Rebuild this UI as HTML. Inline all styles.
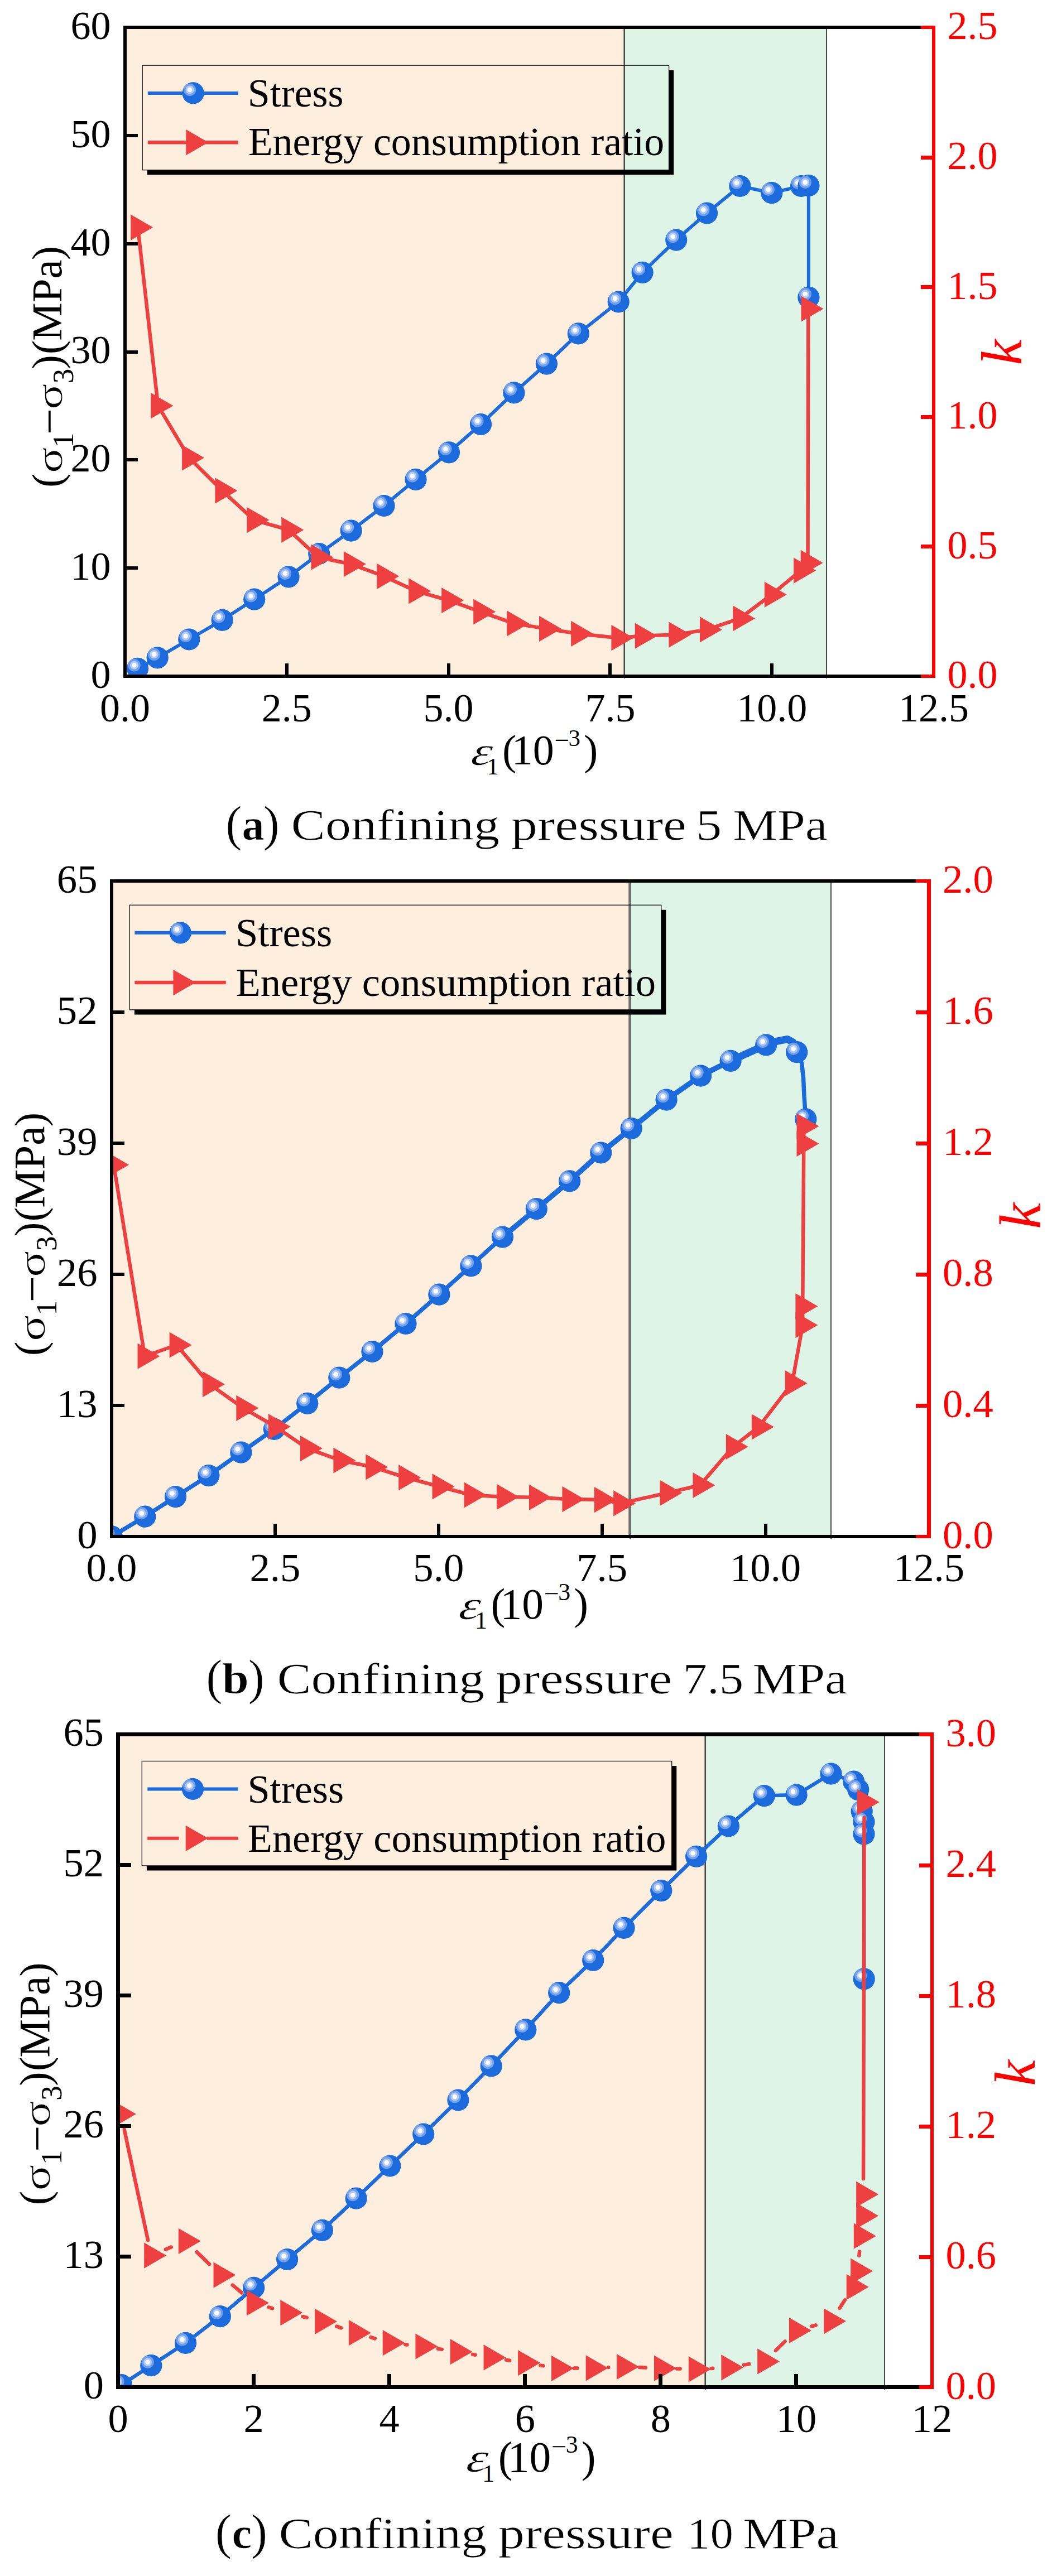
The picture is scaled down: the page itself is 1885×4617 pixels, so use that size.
<!DOCTYPE html>
<html lang="en"><head><meta charset="utf-8"><title>Stress and energy consumption ratio</title>
<style>html,body{margin:0;padding:0;background:#fff}svg{display:block}text{font-family:"Liberation Serif", "DejaVu Serif", serif}</style>
</head><body>
<svg width="1885" height="4617" viewBox="0 0 1885 4617">
<defs><g id="b"><circle r="19.6" fill="#1B6BDC"/><circle cx="-6.1" cy="-6" r="11.2" fill="#729FE9"/><circle cx="-6.1" cy="-6" r="7.5" fill="#B2CBF4"/><circle cx="-6.1" cy="-6" r="4.2" fill="#fff"/></g></defs>
<rect width="1885" height="4617" fill="#fff"/>
<g id="chart1">
<clipPath id="c1"><rect x="224" y="49" width="1449" height="1163"/></clipPath>
<rect x="224" y="49" width="895" height="1166" fill="#FDEEDE"/>
<rect x="1119" y="49" width="362" height="1166" fill="#DEF4E6"/>
<g shape-rendering="crispEdges">
<rect x="1117" y="49" width="1" height="1166" fill="#988E83"/>
<rect x="1118" y="49" width="2" height="1167" fill="#454947"/>
<rect x="1480" y="49" width="2" height="1167" fill="#454947"/>
</g>
<path d="M1198.6 125.8h8.6v187.5h-943.4v-8.6h934.8z" fill="#000"/>
<rect x="255.2" y="117.2" width="943.4" height="187.5" fill="none" stroke="#111" stroke-width="1.3"/>
<path d="M264.7 166.9H427" stroke="#1B6BDC" stroke-width="6" fill="none"/>
<use href="#b" x="346.1" y="166.9"/>
<path d="M264.7 255.2H427" stroke="#EE4040" stroke-width="6.5" fill="none"/>
<g fill="#EE4040"><path d="M333.3 232.1v46.2L373.3 255.2z"/></g>
<text x="443.7" y="191" font-size="71.9">Stress</text>
<text x="444.7" y="278.2" font-size="71.9">Energy consumption ratio</text>
<g clip-path="url(#c1)">
<path d="M246.6 1198.3L282.2 1178.8L338.8 1146L398.2 1111.3L455.7 1074.2L517 1033.8L571.7 992.5L629.2 951.1L688 906.5L745 859.3L804.5 810.8L861.5 760.5L920.9 703.9L979.4 652.1L1036.4 597.9L1108.2 541L1151.1 488.3L1211.7 430.1L1266.5 382L1325.9 333.5L1382.8 345.7L1435.5 333.5L1448.9 332.7L1448.9 533" stroke="#1B6BDC" stroke-width="6" fill="none" stroke-linejoin="round"/>
<use href="#b" x="246.6" y="1198.3"/>
<use href="#b" x="282.2" y="1178.8"/>
<use href="#b" x="338.8" y="1146"/>
<use href="#b" x="398.2" y="1111.3"/>
<use href="#b" x="455.7" y="1074.2"/>
<use href="#b" x="517" y="1033.8"/>
<use href="#b" x="571.7" y="992.5"/>
<use href="#b" x="629.2" y="951.1"/>
<use href="#b" x="688" y="906.5"/>
<use href="#b" x="745" y="859.3"/>
<use href="#b" x="804.5" y="810.8"/>
<use href="#b" x="861.5" y="760.5"/>
<use href="#b" x="920.9" y="703.9"/>
<use href="#b" x="979.4" y="652.1"/>
<use href="#b" x="1036.4" y="597.9"/>
<use href="#b" x="1108.2" y="541"/>
<use href="#b" x="1151.1" y="488.3"/>
<use href="#b" x="1211.7" y="430.1"/>
<use href="#b" x="1266.5" y="382"/>
<use href="#b" x="1325.9" y="333.5"/>
<use href="#b" x="1382.8" y="345.7"/>
<use href="#b" x="1435.5" y="333.5"/>
<use href="#b" x="1448.9" y="332.7"/>
<use href="#b" x="1448.9" y="533"/>
<path d="M247 407.6L283.2 727.2L338.9 820.5L398.2 879.4L455.2 932.1L517 949.7L570.2 998.7L628.7 1011L688 1032.8L745 1059.4L804 1076L861 1096.5L920.9 1117.4L978.8 1126.9L1035.9 1135.9L1108.2 1143.2L1150.5 1139.7L1211.2 1137.6L1266.8 1128.4L1325.8 1108.4L1382.6 1065.7L1434.9 1022.6L1447.5 1008.8L1448.3 553.5" stroke="#EE4040" stroke-width="6.5" fill="none" stroke-linejoin="round"/>
<g fill="#EE4040">
<path d="M234.2 384.5v46.2L274.2 407.6z"/>
<path d="M270.4 704.1v46.2L310.4 727.2z"/>
<path d="M326.1 797.4v46.2L366.1 820.5z"/>
<path d="M385.4 856.3v46.2L425.4 879.4z"/>
<path d="M442.4 909v46.2L482.4 932.1z"/>
<path d="M504.2 926.6v46.2L544.2 949.7z"/>
<path d="M557.4 975.6v46.2L597.4 998.7z"/>
<path d="M615.9 987.9v46.2L655.9 1011z"/>
<path d="M675.2 1009.7v46.2L715.2 1032.8z"/>
<path d="M732.2 1036.3v46.2L772.2 1059.4z"/>
<path d="M791.2 1052.9v46.2L831.2 1076z"/>
<path d="M848.2 1073.4v46.2L888.2 1096.5z"/>
<path d="M908.1 1094.3v46.2L948.1 1117.4z"/>
<path d="M966 1103.8v46.2L1006 1126.9z"/>
<path d="M1023.1 1112.8v46.2L1063.1 1135.9z"/>
<path d="M1095.4 1120.1v46.2L1135.4 1143.2z"/>
<path d="M1137.7 1116.6v46.2L1177.7 1139.7z"/>
<path d="M1198.4 1114.5v46.2L1238.4 1137.6z"/>
<path d="M1254 1105.3v46.2L1294 1128.4z"/>
<path d="M1313 1085.3v46.2L1353 1108.4z"/>
<path d="M1369.8 1042.6v46.2L1409.8 1065.7z"/>
<path d="M1422.1 999.5v46.2L1462.1 1022.6z"/>
<path d="M1434.7 985.7v46.2L1474.7 1008.8z"/>
<path d="M1435.5 530.4v46.2L1475.5 553.5z"/>
</g>
</g>
<g shape-rendering="crispEdges">
<rect x="221" y="46" width="6" height="1169" fill="#000"/>
<rect x="221" y="46" width="1455" height="6" fill="#000"/>
<rect x="221" y="1209" width="1455" height="6" fill="#000"/>
<rect x="224" y="1015.2" width="23" height="6" fill="#000"/>
<rect x="224" y="821.3" width="23" height="6" fill="#000"/>
<rect x="224" y="627.5" width="23" height="6" fill="#000"/>
<rect x="224" y="433.7" width="23" height="6" fill="#000"/>
<rect x="224" y="239.8" width="23" height="6" fill="#000"/>
<rect x="510.8" y="1189" width="6" height="23" fill="#000"/>
<rect x="800.6" y="1189" width="6" height="23" fill="#000"/>
<rect x="1090.4" y="1189" width="6" height="23" fill="#000"/>
<rect x="1380.2" y="1189" width="6" height="23" fill="#000"/>
<rect x="1670" y="46" width="6" height="1169" fill="#FF0000"/>
<rect x="1650" y="46" width="23" height="6" fill="#FF0000"/>
<rect x="1650" y="1209" width="23" height="6" fill="#FF0000"/>
<rect x="1650" y="976.4" width="23" height="7" fill="#FF0000"/>
<rect x="1650" y="743.8" width="23" height="7" fill="#FF0000"/>
<rect x="1650" y="511.2" width="23" height="7" fill="#FF0000"/>
<rect x="1650" y="278.6" width="23" height="7" fill="#FF0000"/>
</g>
<g font-size="72">
<g text-anchor="end">
<text x="198.5" y="1232.8">0</text>
<text x="198.5" y="1039">10</text>
<text x="198.5" y="845.1">20</text>
<text x="198.5" y="651.3">30</text>
<text x="198.5" y="457.5">40</text>
<text x="198.5" y="263.6">50</text>
<text x="198.5" y="69.8">60</text>
</g><g text-anchor="middle">
<text x="224" y="1293.2">0.0</text>
<text x="513.8" y="1293.2">2.5</text>
<text x="803.6" y="1293.2">5.0</text>
<text x="1093.4" y="1293.2">7.5</text>
<text x="1383.2" y="1293.2">10.0</text>
<text x="1673" y="1293.2">12.5</text>
</g><g fill="#FF0000">
<text x="1697.5" y="1233.3">0.0</text>
<text x="1697.5" y="1000.7">0.5</text>
<text x="1697.5" y="768.1">1.0</text>
<text x="1697.5" y="535.5">1.5</text>
<text x="1697.5" y="302.9">2.0</text>
<text x="1697.5" y="70.3">2.5</text>
</g></g>
<g transform="translate(109.6 870.8) rotate(-90) scale(1)">
<g font-size="76">
<text x="-3" y="0">(</text>
<text x="235.9" y="0">(</text>
<text x="209.4" y="0">)</text>
<text x="404.5" y="0">)</text>
<text x="92.2" y="4.5" transform="translate(95.8 0) scale(1.1 1) translate(-95.8 0)">−</text>
</g>
<text font-size="76" transform="translate(26.1 1.2) scale(1.14 0.9)" x="-3" y="0" stroke="#fff" stroke-width="1">σ</text>
<text font-size="76" transform="translate(140.2 1.2) scale(1.14 0.9)" x="-3" y="0" stroke="#fff" stroke-width="1">σ</text>
<text font-size="53" x="68.9" y="21.7">1</text>
<text font-size="53" x="183.6" y="21.7">3</text>
<text font-size="77" x="260.1" y="0">MPa</text>
</g>
<g transform="translate(844.4 1370) scale(1)">
<text font-size="76" font-style="italic" transform="translate(0 0.5) scale(1.2 0.95) skewX(-8)" x="-2" y="0" stroke="#fff" stroke-width="0.7">ε</text>
<text font-size="43" x="27.8" y="17.9">1</text>
<text font-size="76" x="55.6" y="0">(</text>
<text font-size="76" x="72.4" y="0">10</text>
<text font-size="43" x="149.3" y="-29.1" transform="translate(151.6 0) scale(1.1 1) translate(-151.6 0)">−</text>
<text font-size="43" x="174.2" y="-32.7">3</text>
<text font-size="76" x="201.6" y="0">)</text>
</g>
<text transform="translate(1830.3 631.4) rotate(-90)" font-size="104" font-style="italic" fill="#FF0000" text-anchor="middle">k</text>
<g font-size="78" stroke="#fff" stroke-width="0.7">
<text x="404.3" y="1506.3" font-size="88">(</text>
<text x="433.6" y="1505.3" font-weight="bold" textLength="40.1" lengthAdjust="spacingAndGlyphs">a</text>
<text x="471.6" y="1506.3" font-size="88">)</text>
<text x="521.5" y="1505.3" textLength="373.6" lengthAdjust="spacingAndGlyphs">Confining</text>
<text x="915.8" y="1505.3" textLength="314.1" lengthAdjust="spacingAndGlyphs">pressure</text>
<text x="1247.1" y="1505.3" textLength="46.3" lengthAdjust="spacingAndGlyphs">5</text>
<text x="1313.2" y="1505.3" textLength="169.5" lengthAdjust="spacingAndGlyphs">MPa</text>
</g>
</g>
<g id="chart2">
<clipPath id="c2"><rect x="200" y="1579" width="1464.5" height="1175"/></clipPath>
<rect x="200" y="1579" width="929" height="1178" fill="#FDEEDE"/>
<rect x="1129" y="1579" width="360" height="1178" fill="#DEF4E6"/>
<g shape-rendering="crispEdges">
<rect x="1126" y="1579" width="2" height="1178" fill="#988E83"/>
<rect x="1128" y="1579" width="2" height="1179" fill="#454947"/>
<rect x="1488" y="1579" width="2" height="1179" fill="#454947"/>
</g>
<path d="M1184.8 1630.8h8.6v187.6h-952.5v-8.6h943.9z" fill="#000"/>
<rect x="232.3" y="1622.2" width="952.5" height="187.6" fill="none" stroke="#111" stroke-width="1.3"/>
<path d="M241.4 1671.8H404.8" stroke="#1B6BDC" stroke-width="6" fill="none"/>
<use href="#b" x="323.2" y="1671.8"/>
<path d="M241.4 1761.1H404.8" stroke="#EE4040" stroke-width="6.5" fill="none"/>
<g fill="#EE4040"><path d="M310.4 1738v46.2L350.4 1761.1z"/></g>
<text x="421.9" y="1696" font-size="72.6">Stress</text>
<text x="422.4" y="1784.5" font-size="72.6">Energy consumption ratio</text>
<g clip-path="url(#c2)">
<path d="M200.3 2753.9L259.8 2718.2L314.5 2682.6L373.9 2644.6L431.9 2603.2L491.3 2561.4L550.7 2515.3L607.8 2469.2L667 2422.5L727 2372.5L786.9 2320.2L843.9 2268.9L900.5 2217.1L961.3 2166.7L1020.7 2116.8L1076.8 2066L1131.2 2022.5L1194.1 1971.1L1255.6 1928.1L1309.1 1901.3L1372.7 1872.8L1393 1866L1411 1862.5L1421 1868L1427.7 1885.7L1436.5 1905L1439.5 1932L1441 1965L1443.8 2005.8" stroke="#1B6BDC" stroke-width="7.5" fill="none" stroke-linejoin="round"/>
<path d="M900.5 2217.1L961.3 2166.7L1020.7 2116.8L1076.8 2066L1131.2 2022.5L1194.1 1971.1L1255.6 1928.1L1309.1 1901.3" stroke="#1B6BDC" stroke-width="9.5" fill="none" stroke-linejoin="round" stroke-linecap="round"/>
<path d="M1309.1 1901.3L1372.7 1872.8L1393 1866L1411 1862.5L1421 1868L1427.7 1885.7" stroke="#1B6BDC" stroke-width="13" fill="none" stroke-linejoin="round" stroke-linecap="round"/>
<use href="#b" x="200.3" y="2753.9"/>
<use href="#b" x="259.8" y="2718.2"/>
<use href="#b" x="314.5" y="2682.6"/>
<use href="#b" x="373.9" y="2644.6"/>
<use href="#b" x="431.9" y="2603.2"/>
<use href="#b" x="491.3" y="2561.4"/>
<use href="#b" x="550.7" y="2515.3"/>
<use href="#b" x="607.8" y="2469.2"/>
<use href="#b" x="667" y="2422.5"/>
<use href="#b" x="727" y="2372.5"/>
<use href="#b" x="786.9" y="2320.2"/>
<use href="#b" x="843.9" y="2268.9"/>
<use href="#b" x="900.5" y="2217.1"/>
<use href="#b" x="961.3" y="2166.7"/>
<use href="#b" x="1020.7" y="2116.8"/>
<use href="#b" x="1076.8" y="2066"/>
<use href="#b" x="1131.2" y="2022.5"/>
<use href="#b" x="1194.1" y="1971.1"/>
<use href="#b" x="1255.6" y="1928.1"/>
<use href="#b" x="1309.1" y="1901.3"/>
<use href="#b" x="1372.7" y="1872.8"/>
<use href="#b" x="1427.7" y="1885.7"/>
<use href="#b" x="1443.8" y="2005.8"/>
<path d="M203.8 2087.7L259.3 2430.7L316.4 2410.7L375.8 2481.1L436.1 2523.8L493.7 2557.1L550.7 2596.1L610.1 2617.5L668.1 2629.4L727 2648.2L787.3 2664.3L844.4 2679.5L902.8 2682.9L960.8 2683.8L1020.2 2687.1L1077.7 2688.1L1112 2694.4L1195.2 2675.8L1254.2 2662L1313.6 2593L1359.6 2557.4L1419.4 2479.2L1438.2 2375.1L1438.2 2341.2L1440.3 2049.8L1440.3 2018.4" stroke="#EE4040" stroke-width="6.5" fill="none" stroke-linejoin="round"/>
<g fill="#EE4040">
<path d="M191 2064.6v46.2L231 2087.7z"/>
<path d="M246.5 2407.6v46.2L286.5 2430.7z"/>
<path d="M303.6 2387.6v46.2L343.6 2410.7z"/>
<path d="M363 2458v46.2L403 2481.1z"/>
<path d="M423.3 2500.7v46.2L463.3 2523.8z"/>
<path d="M480.9 2534v46.2L520.9 2557.1z"/>
<path d="M537.9 2573v46.2L577.9 2596.1z"/>
<path d="M597.3 2594.4v46.2L637.3 2617.5z"/>
<path d="M655.3 2606.3v46.2L695.3 2629.4z"/>
<path d="M714.2 2625.1v46.2L754.2 2648.2z"/>
<path d="M774.5 2641.2v46.2L814.5 2664.3z"/>
<path d="M831.6 2656.4v46.2L871.6 2679.5z"/>
<path d="M890 2659.8v46.2L930 2682.9z"/>
<path d="M948 2660.7v46.2L988 2683.8z"/>
<path d="M1007.4 2664v46.2L1047.4 2687.1z"/>
<path d="M1064.9 2665v46.2L1104.9 2688.1z"/>
<path d="M1099.2 2671.3v46.2L1139.2 2694.4z"/>
<path d="M1182.4 2652.7v46.2L1222.4 2675.8z"/>
<path d="M1241.4 2638.9v46.2L1281.4 2662z"/>
<path d="M1300.8 2569.9v46.2L1340.8 2593z"/>
<path d="M1346.8 2534.3v46.2L1386.8 2557.4z"/>
<path d="M1406.6 2456.1v46.2L1446.6 2479.2z"/>
<path d="M1425.4 2352v46.2L1465.4 2375.1z"/>
<path d="M1425.4 2318.1v46.2L1465.4 2341.2z"/>
<path d="M1427.5 2026.7v46.2L1467.5 2049.8z"/>
<path d="M1427.5 1995.3v46.2L1467.5 2018.4z"/>
</g>
</g>
<g shape-rendering="crispEdges">
<rect x="197" y="1576" width="6" height="1181" fill="#000"/>
<rect x="197" y="1576" width="1471" height="6" fill="#000"/>
<rect x="197" y="2751" width="1471" height="6" fill="#000"/>
<rect x="200" y="2516" width="23" height="6" fill="#000"/>
<rect x="200" y="2281" width="23" height="6" fill="#000"/>
<rect x="200" y="2046" width="23" height="6" fill="#000"/>
<rect x="200" y="1811" width="23" height="6" fill="#000"/>
<rect x="489.9" y="2731" width="6" height="23" fill="#000"/>
<rect x="782.8" y="2731" width="6" height="23" fill="#000"/>
<rect x="1075.7" y="2731" width="6" height="23" fill="#000"/>
<rect x="1368.6" y="2731" width="6" height="23" fill="#000"/>
<rect x="1661" y="1576" width="7" height="1181" fill="#FF0000"/>
<rect x="1641" y="1576" width="23.5" height="6" fill="#FF0000"/>
<rect x="1641" y="2751" width="23.5" height="6" fill="#FF0000"/>
<rect x="1641" y="2516" width="23.5" height="7" fill="#FF0000"/>
<rect x="1641" y="2281" width="23.5" height="7" fill="#FF0000"/>
<rect x="1641" y="2046" width="23.5" height="7" fill="#FF0000"/>
<rect x="1641" y="1811" width="23.5" height="7" fill="#FF0000"/>
</g>
<g font-size="72.7">
<g text-anchor="end">
<text x="174.5" y="2774.8">0</text>
<text x="174.5" y="2539.8">13</text>
<text x="174.5" y="2304.8">26</text>
<text x="174.5" y="2069.8">39</text>
<text x="174.5" y="1834.8">52</text>
<text x="174.5" y="1599.8">65</text>
</g><g text-anchor="middle">
<text x="200" y="2833.5">0.0</text>
<text x="492.9" y="2833.5">2.5</text>
<text x="785.8" y="2833.5">5.0</text>
<text x="1078.7" y="2833.5">7.5</text>
<text x="1371.6" y="2833.5">10.0</text>
<text x="1664.5" y="2833.5">12.5</text>
</g><g fill="#FF0000">
<text x="1689" y="2775.3">0.0</text>
<text x="1689" y="2540.3">0.4</text>
<text x="1689" y="2305.3">0.8</text>
<text x="1689" y="2070.3">1.2</text>
<text x="1689" y="1835.3">1.6</text>
<text x="1689" y="1600.3">2.0</text>
</g></g>
<g transform="translate(78.8 2426.9) rotate(-90) scale(1.0075)">
<g font-size="76">
<text x="-3" y="0">(</text>
<text x="235.9" y="0">(</text>
<text x="209.4" y="0">)</text>
<text x="404.5" y="0">)</text>
<text x="92.2" y="4.5" transform="translate(95.8 0) scale(1.1 1) translate(-95.8 0)">−</text>
</g>
<text font-size="76" transform="translate(26.1 1.2) scale(1.14 0.9)" x="-3" y="0" stroke="#fff" stroke-width="1">σ</text>
<text font-size="76" transform="translate(140.2 1.2) scale(1.14 0.9)" x="-3" y="0" stroke="#fff" stroke-width="1">σ</text>
<text font-size="53" x="68.9" y="21.7">1</text>
<text font-size="53" x="183.6" y="21.7">3</text>
<text font-size="77" x="260.1" y="0">MPa</text>
</g>
<g transform="translate(822.7 2901) scale(1.02)">
<text font-size="76" font-style="italic" transform="translate(0 0.5) scale(1.2 0.95) skewX(-8)" x="-2" y="0" stroke="#fff" stroke-width="0.7">ε</text>
<text font-size="43" x="27.8" y="17.9">1</text>
<text font-size="76" x="55.6" y="0">(</text>
<text font-size="76" x="72.4" y="0">10</text>
<text font-size="43" x="149.3" y="-29.1" transform="translate(151.6 0) scale(1.1 1) translate(-151.6 0)">−</text>
<text font-size="43" x="174.2" y="-32.7">3</text>
<text font-size="76" x="201.6" y="0">)</text>
</g>
<text transform="translate(1864.1 2179.4) rotate(-90)" font-size="105" font-style="italic" fill="#FF0000" text-anchor="middle">k</text>
<g font-size="78" stroke="#fff" stroke-width="0.7">
<text x="369.3" y="3035.8" font-size="88">(</text>
<text x="397.9" y="3034.8" font-weight="bold" textLength="47.8" lengthAdjust="spacingAndGlyphs">b</text>
<text x="444.6" y="3035.8" font-size="88">)</text>
<text x="496.4" y="3034.8" textLength="371.7" lengthAdjust="spacingAndGlyphs">Confining</text>
<text x="888.5" y="3034.8" textLength="315.7" lengthAdjust="spacingAndGlyphs">pressure</text>
<text x="1223.4" y="3034.8" textLength="109" lengthAdjust="spacingAndGlyphs">7.5</text>
<text x="1348.4" y="3034.8" textLength="169.5" lengthAdjust="spacingAndGlyphs">MPa</text>
</g>
</g>
<g id="chart3">
<clipPath id="c3"><rect x="211.5" y="3108.5" width="1458.5" height="1170"/></clipPath>
<rect x="211.5" y="3108.5" width="1052.5" height="1173" fill="#FDEEDE"/>
<rect x="1264" y="3108.5" width="321" height="1173" fill="#DEF4E6"/>
<g shape-rendering="crispEdges">
<rect x="1262" y="3108.5" width="1" height="1173" fill="#988E83"/>
<rect x="1263" y="3108.5" width="2" height="1174" fill="#454947"/>
<rect x="1584" y="3108.5" width="2" height="1174" fill="#454947"/>
</g>
<path d="M1203.7 3165.1h8.6v187.4h-949.4v-8.6h940.8z" fill="#000"/>
<rect x="254.3" y="3156.5" width="949.4" height="187.4" fill="none" stroke="#111" stroke-width="1.3"/>
<path d="M264.2 3206.5H426.8" stroke="#1B6BDC" stroke-width="6" fill="none"/>
<use href="#b" x="345.5" y="3206.5"/>
<path d="M264.2 3294.8H320.5M370.5 3294.8H426.8" stroke="#EE4040" stroke-width="6" fill="none"/>
<g fill="#EE4040"><path d="M332.7 3271.7v46.2L372.7 3294.8z"/></g>
<text x="443.4" y="3230.8" font-size="72.3">Stress</text>
<text x="443.8" y="3319.1" font-size="72.3">Energy consumption ratio</text>
<g clip-path="url(#c3)">
<path d="M217.5 4274.5L270.8 4239.7L332.6 4199.3L394.4 4151.7L454.7 4100.4L514.6 4049.5L577.4 3997.3L638.2 3940.2L698.8 3882L758.7 3825L820.9 3764L880.2 3702.9L941.8 3637.9L1001.7 3571.7L1062.7 3513.5L1118.1 3455.3L1184.8 3388.6L1247.6 3327.4L1305.4 3273L1369.3 3218.6L1427.1 3217.1L1489 3179.1L1529.7 3193.2L1537.7 3207.6L1544.2 3246.4L1548 3265.4L1548 3287.1L1548.2 3546.8" stroke="#1B6BDC" stroke-width="6.5" fill="none" stroke-linejoin="round"/>
<use href="#b" x="217.5" y="4274.5"/>
<use href="#b" x="270.8" y="4239.7"/>
<use href="#b" x="332.6" y="4199.3"/>
<use href="#b" x="394.4" y="4151.7"/>
<use href="#b" x="454.7" y="4100.4"/>
<use href="#b" x="514.6" y="4049.5"/>
<use href="#b" x="577.4" y="3997.3"/>
<use href="#b" x="638.2" y="3940.2"/>
<use href="#b" x="698.8" y="3882"/>
<use href="#b" x="758.7" y="3825"/>
<use href="#b" x="820.9" y="3764"/>
<use href="#b" x="880.2" y="3702.9"/>
<use href="#b" x="941.8" y="3637.9"/>
<use href="#b" x="1001.7" y="3571.7"/>
<use href="#b" x="1062.7" y="3513.5"/>
<use href="#b" x="1118.1" y="3455.3"/>
<use href="#b" x="1184.8" y="3388.6"/>
<use href="#b" x="1247.6" y="3327.4"/>
<use href="#b" x="1305.4" y="3273"/>
<use href="#b" x="1369.3" y="3218.6"/>
<use href="#b" x="1427.1" y="3217.1"/>
<use href="#b" x="1489" y="3179.1"/>
<use href="#b" x="1529.7" y="3193.2"/>
<use href="#b" x="1537.7" y="3207.6"/>
<use href="#b" x="1544.2" y="3246.4"/>
<use href="#b" x="1548" y="3265.4"/>
<use href="#b" x="1548" y="3287.1"/>
<use href="#b" x="1548.2" y="3546.8"/>
<path d="M222.6 3816.3L265.1 4015.2M296.8 4031.8L306.8 4027.6M352.7 4036.3L375.2 4058.1M416.7 4095.6L433.3 4109.5M481.6 4135.3L488.2 4137.3M542.2 4152L549.7 4153.9M603.4 4169.7L611.1 4172.3M664.5 4189.1L671.7 4191.3M726.3 4202.2L729.4 4202.5M784.9 4209.8L791.7 4210.9M847 4219.9L851.7 4220.7M907 4229.8L913.2 4230.7M968.5 4239.6L973.2 4240.3M1028.8 4244.6L1034.4 4244.5M1090.1 4243.1l0.1 0M1145.8 4243.1L1156.8 4243.6M1212.8 4245.5L1218.6 4245.6M1274.6 4244.9L1277.2 4244.8M1332.8 4238.6L1342.3 4237.1M1389.9 4212.8L1406.7 4196.5M1453.8 4169.7L1461.7 4167.5M1504.3 4137L1514 4122.3M1539.4 4042.7L1540.1 4035.6M1547.1 3904.9L1548.5 3258" stroke="#EE4040" stroke-width="6.5" fill="none" stroke-linecap="round"/>
<g fill="#EE4040">
<path d="M203.9 3765.8v46.2L243.9 3788.9z"/>
<path d="M258.2 4019.5v46.2L298.2 4042.6z"/>
<path d="M319.8 3993.7v46.2L359.8 4016.8z"/>
<path d="M382.5 4054.5v46.2L422.5 4077.6z"/>
<path d="M441.9 4104.4v46.2L481.9 4127.5z"/>
<path d="M502.3 4122v46.2L542.3 4145.1z"/>
<path d="M564 4137.7v46.2L604 4160.8z"/>
<path d="M624.9 4158.1v46.2L664.9 4181.2z"/>
<path d="M685.7 4176.1v46.2L725.7 4199.2z"/>
<path d="M744.4 4182.4v46.2L784.4 4205.5z"/>
<path d="M806.6 4192.1v46.2L846.6 4215.2z"/>
<path d="M866.5 4202.3v46.2L906.5 4225.4z"/>
<path d="M928.1 4212v46.2L968.1 4235.1z"/>
<path d="M988 4221.7v46.2L1028 4244.8z"/>
<path d="M1049.6 4221.2v46.2L1089.6 4244.3z"/>
<path d="M1105 4218.9v46.2L1145 4242z"/>
<path d="M1172 4221.6v46.2L1212 4244.7z"/>
<path d="M1233.8 4223.3v46.2L1273.8 4246.4z"/>
<path d="M1292.4 4220.2v46.2L1332.4 4243.3z"/>
<path d="M1357.1 4209.3v46.2L1397.1 4232.4z"/>
<path d="M1413.9 4153.8v46.2L1453.9 4176.9z"/>
<path d="M1476 4137.2v46.2L1516 4160.3z"/>
<path d="M1516.7 4075.9v46.2L1556.7 4099z"/>
<path d="M1524.1 4047.5v46.2L1564.1 4070.6z"/>
<path d="M1529.8 3984.6v46.2L1569.8 4007.7z"/>
<path d="M1534.2 3948.3v46.2L1574.2 3971.4z"/>
<path d="M1534.2 3909.8v46.2L1574.2 3932.9z"/>
<path d="M1535.8 3206.9v46.2L1575.8 3230z"/>
</g>
</g>
<g shape-rendering="crispEdges">
<rect x="208" y="3105" width="7" height="1177" fill="#000"/>
<rect x="208" y="3105" width="1465" height="7" fill="#000"/>
<rect x="208" y="4275" width="1465" height="7" fill="#000"/>
<rect x="211.5" y="4041" width="23.5" height="7" fill="#000"/>
<rect x="211.5" y="3807" width="23.5" height="7" fill="#000"/>
<rect x="211.5" y="3573" width="23.5" height="7" fill="#000"/>
<rect x="211.5" y="3339" width="23.5" height="7" fill="#000"/>
<rect x="451.1" y="4255" width="7" height="23.5" fill="#000"/>
<rect x="694.2" y="4255" width="7" height="23.5" fill="#000"/>
<rect x="937.2" y="4255" width="7" height="23.5" fill="#000"/>
<rect x="1180.3" y="4255" width="7" height="23.5" fill="#000"/>
<rect x="1423.4" y="4255" width="7" height="23.5" fill="#000"/>
<rect x="1667" y="3105" width="6" height="1177" fill="#FF0000"/>
<rect x="1647" y="3105" width="23" height="7" fill="#FF0000"/>
<rect x="1647" y="4275" width="23" height="7" fill="#FF0000"/>
<rect x="1647" y="4041.5" width="23" height="7" fill="#FF0000"/>
<rect x="1647" y="3807.5" width="23" height="7" fill="#FF0000"/>
<rect x="1647" y="3573.5" width="23" height="7" fill="#FF0000"/>
<rect x="1647" y="3339.5" width="23" height="7" fill="#FF0000"/>
</g>
<g font-size="72.4">
<g text-anchor="end">
<text x="186" y="4299.3">0</text>
<text x="186" y="4065.3">13</text>
<text x="186" y="3831.3">26</text>
<text x="186" y="3597.3">39</text>
<text x="186" y="3363.3">52</text>
<text x="186" y="3129.3">65</text>
</g><g text-anchor="middle">
<text x="211.5" y="4358.8">0</text>
<text x="454.6" y="4358.8">2</text>
<text x="697.7" y="4358.8">4</text>
<text x="940.8" y="4358.8">6</text>
<text x="1183.8" y="4358.8">8</text>
<text x="1426.9" y="4358.8">10</text>
<text x="1670" y="4358.8">12</text>
</g><g fill="#FF0000">
<text x="1694.5" y="4299.8">0.0</text>
<text x="1694.5" y="4065.8">0.6</text>
<text x="1694.5" y="3831.8">1.2</text>
<text x="1694.5" y="3597.8">1.8</text>
<text x="1694.5" y="3363.8">2.4</text>
<text x="1694.5" y="3129.8">3.0</text>
</g></g>
<g transform="translate(87.8 3949.2) rotate(-90) scale(1.005)">
<g font-size="76">
<text x="-3" y="0">(</text>
<text x="235.9" y="0">(</text>
<text x="209.4" y="0">)</text>
<text x="404.5" y="0">)</text>
<text x="92.2" y="4.5" transform="translate(95.8 0) scale(1.1 1) translate(-95.8 0)">−</text>
</g>
<text font-size="76" transform="translate(26.1 1.2) scale(1.14 0.9)" x="-3" y="0" stroke="#fff" stroke-width="1">σ</text>
<text font-size="76" transform="translate(140.2 1.2) scale(1.14 0.9)" x="-3" y="0" stroke="#fff" stroke-width="1">σ</text>
<text font-size="53" x="68.9" y="21.7">1</text>
<text font-size="53" x="183.6" y="21.7">3</text>
<text font-size="77" x="260.1" y="0">MPa</text>
</g>
<g transform="translate(836 4429.5) scale(1.02)">
<text font-size="76" font-style="italic" transform="translate(0 0.5) scale(1.2 0.95) skewX(-8)" x="-2" y="0" stroke="#fff" stroke-width="0.7">ε</text>
<text font-size="43" x="27.8" y="17.9">1</text>
<text font-size="76" x="55.6" y="0">(</text>
<text font-size="76" x="72.4" y="0">10</text>
<text font-size="43" x="149.3" y="-29.1" transform="translate(151.6 0) scale(1.1 1) translate(-151.6 0)">−</text>
<text font-size="43" x="174.2" y="-32.7">3</text>
<text font-size="76" x="201.6" y="0">)</text>
</g>
<text transform="translate(1854.4 3715.6) rotate(-90)" font-size="104.5" font-style="italic" fill="#FF0000" text-anchor="middle">k</text>
<g font-size="78" stroke="#fff" stroke-width="0.7">
<text x="385.8" y="4568.2" font-size="88">(</text>
<text x="415.5" y="4567.2" font-weight="bold" textLength="35.6" lengthAdjust="spacingAndGlyphs">c</text>
<text x="449.7" y="4568.2" font-size="88">)</text>
<text x="499.6" y="4567.2" textLength="372.6" lengthAdjust="spacingAndGlyphs">Confining</text>
<text x="892.7" y="4567.2" textLength="314.2" lengthAdjust="spacingAndGlyphs">pressure</text>
<text x="1231" y="4567.2" textLength="83.1" lengthAdjust="spacingAndGlyphs">10</text>
<text x="1331.3" y="4567.2" textLength="171.4" lengthAdjust="spacingAndGlyphs">MPa</text>
</g>
</g>
</svg></body></html>
